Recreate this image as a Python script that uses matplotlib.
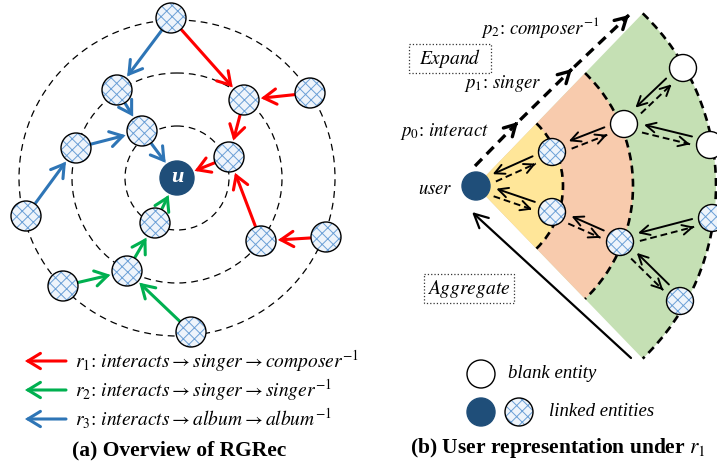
import numpy as np
import matplotlib.pyplot as plt
from matplotlib.patches import Circle, Wedge, Arc, Rectangle, FancyArrowPatch

plt.rcParams['mathtext.fontset'] = 'stix'
plt.rcParams['hatch.linewidth'] = 0.7

DARK = '#1F4E79'
HATCH_FACE = '#eef4fb'
HATCH_LINE = '#6a9fd6'

# ---- left panel: relation paths around the user ----
ring_center = (177, 178)
ring_radii = [52, 105, 158]

node_names = ['top', 'a', 'b', 'c', 'd', 'e', 'f', 'g', 'h', 'i', 'j', 'k', 'l', 'm']
node_x = [171, 117, 142, 76, 26, 244, 310, 229, 261, 326, 155, 127, 63, 191]
node_y = [18, 90, 131, 148, 216, 100, 93, 157, 241, 237, 223, 271, 286, 332]

red_edges = [('top', 'e'), ('f', 'e'), ('e', 'g'), ('g', 'u'), ('h', 'g'), ('i', 'h')]
green_edges = [('j', 'u'), ('k', 'j'), ('l', 'k'), ('m', 'k')]
blue_edges = [('top', 'a'), ('a', 'b'), ('c', 'b'), ('d', 'c'), ('b', 'u')]
edge_colors = ['#FF0000', '#00B050', '#2E75B6']

legend_labels = [r'$r_1$: $interacts \rightarrow singer \rightarrow composer^{-1}$',
                 r'$r_2$: $interacts \rightarrow singer \rightarrow singer^{-1}$',
                 r'$r_3$: $interacts \rightarrow album \rightarrow album^{-1}$']

# ---- right panel: user representation under r1 ----
user_pos = (476, 186)
band_radii = [87, 157, 240]
band_colors = ['#FFE699', '#F8CBAD', '#C5E0B4']
linked_x = [552, 552, 620, 680, 712]
linked_y = [152, 212, 242, 301, 218]
blank_x = [683, 624, 710]
blank_y = [68, 124, 145]
# (inner, outer) pairs exchanging messages
pairs = [('user', 'L0'), ('user', 'L1'), ('L0', 'B1'), ('L1', 'L2'),
         ('B1', 'B0'), ('B1', 'B2'), ('L2', 'L4'), ('L2', 'L3')]
path_labels = [r'$p_0$: $interact$', r'$p_1$: $singer$', r'$p_2$: $composer^{-1}$']


def arrow(ax, p, q, color='black', lw=1.5, dashed=False, hl=0.6, hw=0.3, scale=10, dash=(3, 2)):
    p = np.asarray(p, float)
    q = np.asarray(q, float)
    style = f'->,head_length={hl},head_width={hw}'
    if dashed:
        ax.plot([p[0], q[0]], [p[1], q[1]], color=color, lw=lw, ls=(0, dash),
                solid_capstyle='butt', dash_capstyle='butt', zorder=4)
        u = (q - p) / np.hypot(*(q - p))
        p = q - 2 * u
    ax.add_patch(FancyArrowPatch(p, q, arrowstyle=style, mutation_scale=scale, color=color,
                                 lw=lw, shrinkA=0, shrinkB=0, zorder=4, joinstyle='miter'))


def hatched(ax, xy, r, lw=1.0):
    ax.add_patch(Circle(xy, r, facecolor=HATCH_FACE, edgecolor=HATCH_LINE, lw=0, hatch='xxx', zorder=5))
    ax.add_patch(Circle(xy, r, fill=False, edgecolor='black', lw=lw, zorder=6))


fig = plt.figure(figsize=(7.17, 4.66), dpi=100)
ax = fig.add_axes([0, 0, 1, 1])
ax.set_xlim(0, 717)
ax.set_ylim(466, 0)
ax.axis('off')

# left panel
for r in ring_radii:
    ax.add_patch(Circle(ring_center, r, fill=False, ls=(0, (5.5, 4)), lw=0.9, ec='black', zorder=2))

pos = {n: np.array([x, y], float) for n, x, y in zip(node_names, node_x, node_y)}
pos['u'] = np.array(ring_center, float)
rad = {n: 15 for n in node_names}
rad['u'] = 17

for edges, col in zip([red_edges, green_edges, blue_edges], edge_colors):
    for s, t in edges:
        d = pos[t] - pos[s]
        u = d / np.hypot(*d)
        arrow(ax, pos[s] + u * (rad[s] + 1), pos[t] - u * (rad[t] + 2), color=col, lw=2.2,
              hl=0.9, hw=0.55, scale=10)

for n in node_names:
    hatched(ax, pos[n], rad[n])
ax.add_patch(Circle(pos['u'], rad['u'], color=DARK, zorder=5))
ax.text(pos['u'][0], pos['u'][1] - 1, 'u', color='white', fontsize=16, family='Liberation Serif',
        fontweight='bold', fontstyle='italic', ha='center', va='center', zorder=7)

for i, (lab, col) in enumerate(zip(legend_labels, edge_colors)):
    y = 361 + 29 * i
    arrow(ax, (66, y), (25, y), color=col, lw=2.2, hl=0.9, hw=0.55, scale=10)
    ax.text(75, y, lab, fontsize=14, va='center', ha='left', family='STIXGeneral')

ax.text(179, 450, '(a) Overview of RGRec', fontsize=15.5, fontweight='bold',
        family='Liberation Serif', ha='center', va='center')

# right panel
for r, col in zip(band_radii[::-1], band_colors[::-1]):
    ax.add_patch(Wedge(user_pos, r, -46, 46, color=col, lw=0, zorder=1))
for r in band_radii:
    ax.add_patch(Arc(user_pos, 2 * r, 2 * r, theta1=-46, theta2=46, ls=(0, (3, 2)), lw=1.9,
                     color='black', zorder=2))

rpos = {'user': np.array(user_pos, float)}
rrad = {'user': 14}
for i, (x, y) in enumerate(zip(linked_x, linked_y)):
    rpos[f'L{i}'] = np.array([x, y], float)
    rrad[f'L{i}'] = 13.5
for i, (x, y) in enumerate(zip(blank_x, blank_y)):
    rpos[f'B{i}'] = np.array([x, y], float)
    rrad[f'B{i}'] = 13.5

for a, b in pairs:
    d = rpos[b] - rpos[a]
    L = np.hypot(*d)
    u = d / L
    nrm = np.array([u[1], -u[0]])
    gap0 = rrad[a] + 6
    gap1 = L - rrad[b] - 6
    p0 = rpos[a] + u * gap0
    p1 = rpos[a] + u * gap1
    arrow(ax, p1 + 4 * nrm, p0 + 4 * nrm, lw=1.4, hl=0.7, hw=0.35, scale=10)
    arrow(ax, p0 - 4 * nrm, p1 - 4 * nrm, lw=1.4, dashed=True, hl=0.7, hw=0.35, scale=10,
          dash=(3.5, 2))

for k, v in rpos.items():
    if k.startswith('L'):
        hatched(ax, v, rrad[k])
    elif k.startswith('B'):
        ax.add_patch(Circle(v, rrad[k], facecolor='white', edgecolor='black', lw=1.0, zorder=5))
ax.add_patch(Circle(user_pos, rrad['user'], color=DARK, zorder=5))

# expand arrow along the upper edge
exp_pts = [(475, 166), (518, 122), (572, 69), (629, 15)]
for i in range(3):
    p = np.array(exp_pts[i], float)
    q = np.array(exp_pts[i + 1], float)
    if i > 0:
        p = p + (q - p) / np.hypot(*(q - p)) * 3
    arrow(ax, p, q, lw=2.4, dashed=True, hl=0.8, hw=0.45, scale=10, dash=(3, 2))

# aggregate arrow along the lower edge
arrow(ax, (631, 358), (472, 212), lw=1.6, hl=1.0, hw=0.5, scale=10)

for lab, x, y in zip(path_labels, [489, 542, 600], [132, 83, 28]):
    ax.text(x, y, lab, fontsize=13.5, ha='right', va='center', family='STIXGeneral')

ax.text(435, 188, r'$user$', fontsize=13.5, ha='center', va='center')
ax.add_patch(Rectangle((409, 44), 82, 29, fill=False, ls=':', lw=0.9, ec='#333333'))
ax.text(450, 58, r'$Expand$', fontsize=14, ha='center', va='center')
ax.add_patch(Rectangle((424, 274), 90, 29, fill=False, ls=':', lw=0.9, ec='#333333'))
ax.text(469, 289, r'$Aggregate$', fontsize=14, ha='center', va='center')

# legend of entity types
ax.add_patch(Circle((481, 374), 14, facecolor='white', edgecolor='black', lw=1.0))
ax.text(508, 374, 'blank entity', fontsize=13.5, fontstyle='italic', family='Liberation Serif',
        va='center', ha='left')
ax.add_patch(Circle((481, 412), 14, color=DARK))
hatched(ax, (519, 412), 14)
ax.text(549, 412, 'linked entities', fontsize=13.5, fontstyle='italic', family='Liberation Serif',
        va='center', ha='left')

ax.text(410, 448, r'(b) User representation under $r_1$', fontsize=15.5, fontweight='bold',
        family='Liberation Serif', ha='left', va='center')

fig.savefig('out.png', dpi=100)
